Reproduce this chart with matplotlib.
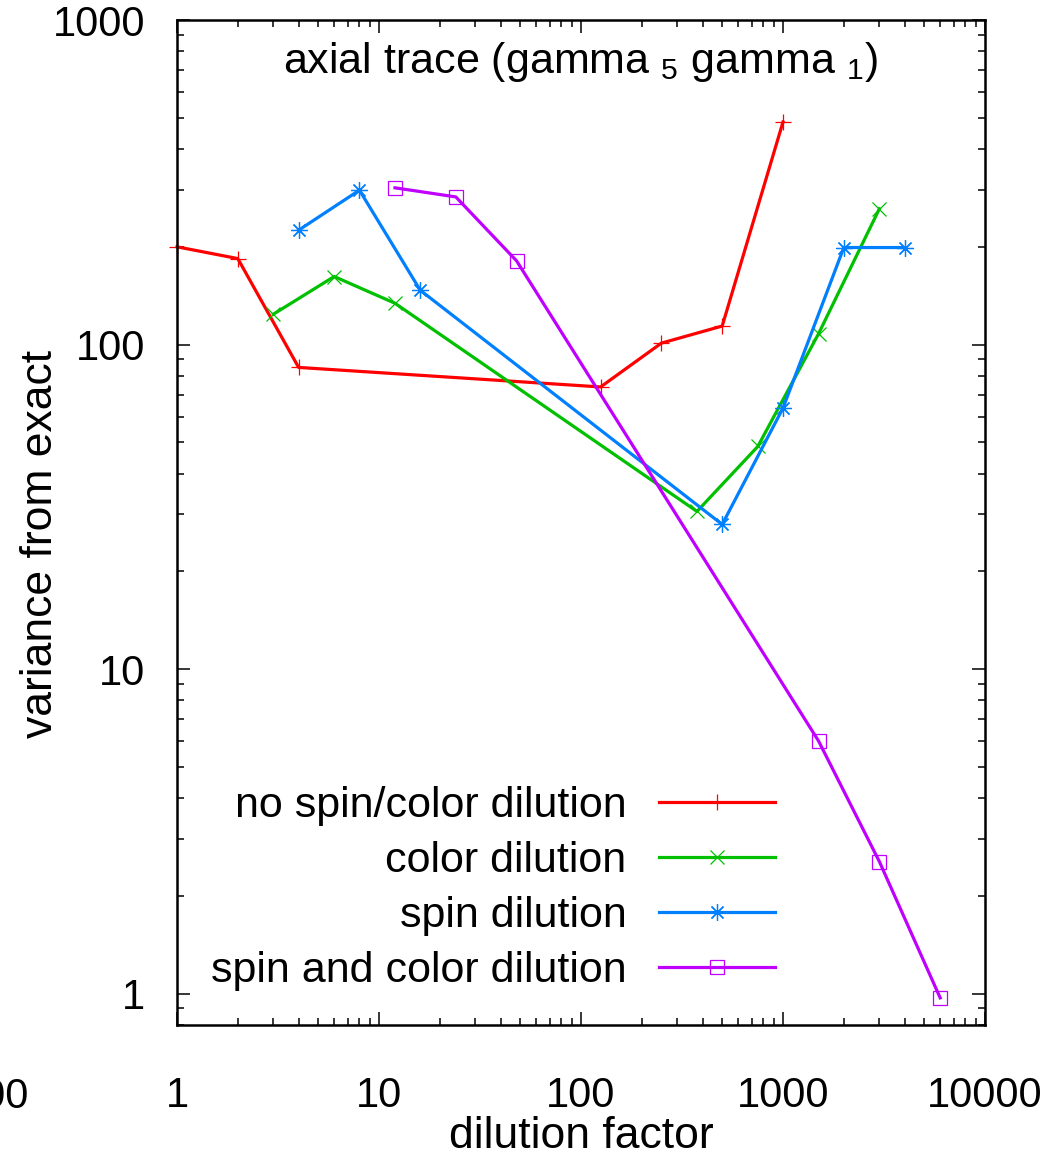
import numpy as np
import matplotlib
matplotlib.use("Agg")
import matplotlib.pyplot as plt
from matplotlib.ticker import LogLocator, FuncFormatter, NullFormatter

# --- data (log-log) ---
none_x = [1, 2, 4, 125, 250, 500, 1000]
none_y = [200, 184, 85, 74, 101, 114, 485]

color_x = [3, 6, 12, 375, 750, 1500, 3000]
color_y = [124, 162, 134, 30.6, 48.5, 108, 262]

spin_x = [4, 8, 16, 500, 1000, 2000, 4000]
spin_y = [225, 299, 147, 27.9, 63.7, 199, 199]

both_x = [12, 24, 48, 1500, 3000, 6000]
both_y = [304, 285, 181, 6.0, 2.55, 0.97]

labels = ["no spin/color dilution", "color dilution", "spin dilution",
          "spin and color dilution"]

# --- style ---
plt.rcParams['font.family'] = ['Liberation Sans', 'DejaVu Sans']
plt.rcParams['mathtext.fontset'] = 'custom'
plt.rcParams['mathtext.rm'] = 'Liberation Sans'
plt.rcParams['mathtext.it'] = 'Liberation Sans:italic'
plt.rcParams['mathtext.default'] = 'regular'

fig = plt.figure(figsize=(10.53, 11.68), dpi=100)
ax = fig.add_axes([177 / 1053, 1 - 1025 / 1168, 808 / 1053, 1005 / 1168])

lw = 2.3
mew = 0.9
ax.plot(none_x, none_y, color='#ff0000', lw=lw, marker='+', ms=12, mew=mew,
        label=labels[0], clip_on=False)
ax.plot(color_x, color_y, color='#00c000', lw=lw, marker='x', ms=10, mew=mew,
        label=labels[1], clip_on=False)
ax.plot(spin_x, spin_y, color='#0080ff', lw=lw, marker=(8, 2, 0), ms=12, mew=mew,
        label=labels[2], clip_on=False)
ax.plot(both_x, both_y, color='#c000ff', lw=lw, marker='s', ms=10, mew=mew,
        fillstyle='none', label=labels[3], clip_on=False)

ax.set_xscale('log')
ax.set_yscale('log')
ax.set_xlim(1, 10000)
ax.set_ylim(0.8, 1000)

fmt = FuncFormatter(lambda v, _: f'{v:g}')
for axis in (ax.xaxis, ax.yaxis):
    axis.set_major_locator(LogLocator(base=10))
    axis.set_minor_locator(LogLocator(base=10, subs=np.arange(2, 10)))
    axis.set_major_formatter(fmt)
    axis.set_minor_formatter(NullFormatter())

ax.tick_params(which='both', direction='in', top=True, right=True, width=1.1,
               labelsize=30)
ax.tick_params(which='major', length=9.5)
ax.tick_params(which='minor', length=5)
ax.tick_params(axis='x', which='major', pad=37)
ax.tick_params(axis='y', which='major', pad=23)
for sp in ax.spines.values():
    sp.set_linewidth(1.8)

ax.set_xlabel('dilution factor', fontsize=32)
ax.xaxis.set_label_coords(0.5, -0.0905)
ax.set_ylabel('variance from exact', fontsize=32)
ax.yaxis.set_label_coords(-0.1436, 0.4786)

ax.text(0.5, 0.947, 'axial trace (gamma $_5$ gamma $_1$)', transform=ax.transAxes,
        ha='center', va='baseline', fontsize=31)

leg = ax.legend(loc='lower right', bbox_to_anchor=(0.740, 0.034), frameon=False,
                markerfirst=False, numpoints=1, fontsize=31, handlelength=2.7,
                handletextpad=0.75, labelspacing=0.35, borderpad=0,
                borderaxespad=0)
for col in leg._legend_handle_box.get_children():
    col.align = 'right'

# clipped leftover tick label at the left edge, as in the original
fig.text(29 / 1053, 1 - 1108 / 1168, '100', ha='right', va='baseline', fontsize=30)

fig.savefig('out.png', dpi=100)
